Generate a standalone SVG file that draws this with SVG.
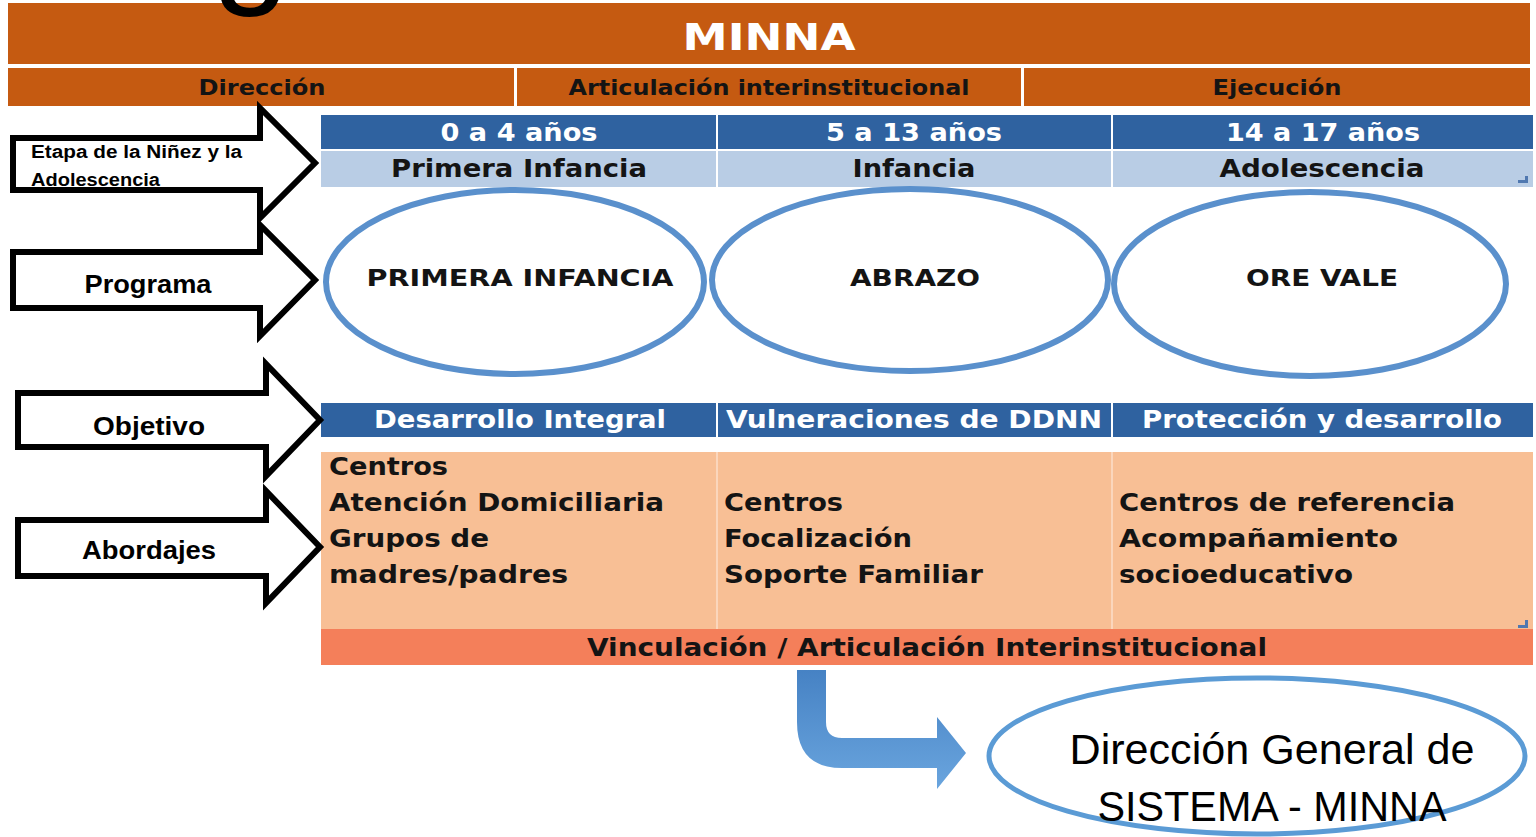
<svg xmlns="http://www.w3.org/2000/svg" width="1536" height="837" viewBox="0 0 1536 837">
<defs>
<style>
.v{font-family:"DejaVu Sans",Verdana,sans-serif;font-weight:bold;}
.c{font-family:"Liberation Sans",Arial,sans-serif;font-weight:bold;fill:#000;}
.wh{fill:#fff;font-size:24px;}
.dk{fill:#141414;}
.or{fill:#C55A11;}
.bl{fill:#2F62A0;}
.lb{fill:#B9CDE5;}
.arr{fill:#fff;stroke:#000;stroke-width:6;stroke-linejoin:miter;}
.ell{fill:#fff;stroke:#5A90CC;stroke-width:6;}
</style>
<linearGradient id="bg" x1="0" y1="0" x2="0" y2="1">
<stop offset="0" stop-color="#4682C4"/>
<stop offset="1" stop-color="#6AA5DE"/>
</linearGradient>
</defs>
<rect width="1536" height="837" fill="#fff"/>

<g id="header">
<rect class="or" x="8" y="3" width="1522" height="61"/>
<text class="v" x="769" y="50" font-size="38" fill="#fff" text-anchor="middle" textLength="173" lengthAdjust="spacingAndGlyphs">MINNA</text>
<text x="212" y="-12" font-family="Liberation Sans,Arial,sans-serif" font-size="140" fill="#000">g</text>
</g>

<g id="row-areas">
<rect class="or" x="8" y="68" width="506" height="38"/>
<rect class="or" x="517" y="68" width="504" height="38"/>
<rect class="or" x="1024" y="68" width="506" height="38"/>
<text class="v dk" x="262" y="95" font-size="21" text-anchor="middle" textLength="127" lengthAdjust="spacingAndGlyphs">Dirección</text>
<text class="v dk" x="769" y="95" font-size="21" text-anchor="middle" textLength="401" lengthAdjust="spacingAndGlyphs">Articulación interinstitucional</text>
<text class="v dk" x="1277" y="95" font-size="21" text-anchor="middle" textLength="129" lengthAdjust="spacingAndGlyphs">Ejecución</text>
</g>

<g id="ages">
<rect class="bl" x="321" y="115" width="395" height="34"/>
<rect class="bl" x="718" y="115" width="393" height="34"/>
<rect class="bl" x="1113" y="115" width="420" height="34"/>
<rect class="lb" x="321" y="151" width="395" height="36"/>
<rect class="lb" x="718" y="151" width="393" height="36"/>
<rect class="lb" x="1113" y="151" width="420" height="36"/>
<text class="v wh" x="519" y="141" text-anchor="middle" textLength="157" lengthAdjust="spacingAndGlyphs">0 a 4 años</text>
<text class="v wh" x="914" y="141" text-anchor="middle" textLength="176" lengthAdjust="spacingAndGlyphs">5 a 13 años</text>
<text class="v wh" x="1323" y="141" text-anchor="middle" textLength="194" lengthAdjust="spacingAndGlyphs">14 a 17 años</text>
<text class="v dk" x="519" y="177" font-size="24" text-anchor="middle" textLength="256" lengthAdjust="spacingAndGlyphs">Primera Infancia</text>
<text class="v dk" x="914" y="177" font-size="24" text-anchor="middle" textLength="123" lengthAdjust="spacingAndGlyphs">Infancia</text>
<text class="v dk" x="1322" y="177" font-size="24" text-anchor="middle" textLength="205" lengthAdjust="spacingAndGlyphs">Adolescencia</text>
<rect x="1518" y="180" width="10" height="3" fill="#5078B0"/>
<rect x="1525" y="176" width="3" height="7" fill="#5078B0"/>
</g>

<g id="prog-primera">
<ellipse class="ell" cx="515" cy="282" rx="189" ry="92"/>
<text class="v dk" x="520" y="286" font-size="23" text-anchor="middle" textLength="307" lengthAdjust="spacingAndGlyphs">PRIMERA INFANCIA</text>
</g>
<g id="prog-abrazo">
<ellipse class="ell" cx="910" cy="280" rx="198" ry="91"/>
<text class="v dk" x="915" y="286" font-size="23" text-anchor="middle" textLength="130" lengthAdjust="spacingAndGlyphs">ABRAZO</text>
</g>
<g id="prog-orevale">
<ellipse class="ell" cx="1310" cy="284" rx="196" ry="92"/>
<text class="v dk" x="1322" y="286" font-size="23" text-anchor="middle" textLength="152" lengthAdjust="spacingAndGlyphs">ORE VALE</text>
</g>

<g id="objetivos">
<rect class="bl" x="321" y="403" width="395" height="34"/>
<rect class="bl" x="718" y="403" width="393" height="34"/>
<rect class="bl" x="1113" y="403" width="420" height="34"/>
<text class="v wh" x="520" y="428" text-anchor="middle" textLength="292" lengthAdjust="spacingAndGlyphs">Desarrollo Integral</text>
<text class="v wh" x="914" y="428" text-anchor="middle" textLength="376" lengthAdjust="spacingAndGlyphs">Vulneraciones de DDNN</text>
<text class="v wh" x="1322" y="428" text-anchor="middle" textLength="360" lengthAdjust="spacingAndGlyphs">Protección y desarrollo</text>
</g>

<g id="abordajes">
<rect x="321" y="452" width="1212" height="177" fill="#F8BF95"/>
<line x1="717" y1="452" x2="717" y2="629" stroke="#FBD6BC" stroke-width="2"/>
<line x1="1112" y1="452" x2="1112" y2="629" stroke="#FBD6BC" stroke-width="2"/>
<g class="v dk" font-size="24">
<text x="329" y="475" textLength="119" lengthAdjust="spacingAndGlyphs">Centros</text>
<text x="329" y="511" textLength="335" lengthAdjust="spacingAndGlyphs">Atención Domiciliaria</text>
<text x="329" y="547" textLength="160" lengthAdjust="spacingAndGlyphs">Grupos de</text>
<text x="329" y="583" textLength="239" lengthAdjust="spacingAndGlyphs">madres/padres</text>
<text x="724" y="511" textLength="119" lengthAdjust="spacingAndGlyphs">Centros</text>
<text x="724" y="547" textLength="188" lengthAdjust="spacingAndGlyphs">Focalización</text>
<text x="724" y="583" textLength="259" lengthAdjust="spacingAndGlyphs">Soporte Familiar</text>
<text x="1119" y="511" textLength="336" lengthAdjust="spacingAndGlyphs">Centros de referencia</text>
<text x="1119" y="547" textLength="279" lengthAdjust="spacingAndGlyphs">Acompañamiento</text>
<text x="1119" y="583" textLength="234" lengthAdjust="spacingAndGlyphs">socioeducativo</text>
</g>
<rect x="1518" y="625" width="10" height="3" fill="#5078B0"/>
<rect x="1525" y="620" width="3" height="8" fill="#5078B0"/>
</g>

<g id="vinculacion">
<rect x="321" y="629" width="1212" height="36" fill="#F47F5A"/>
<text class="v dk" x="927" y="656" font-size="24" text-anchor="middle" textLength="680" lengthAdjust="spacingAndGlyphs">Vinculación / Articulación Interinstitucional</text>
</g>

<g id="label-etapa">
<polygon class="arr" points="13,138 260,138 260,108 315,163 260,218 260,190 13,190"/>
<text class="c" x="31" y="158" font-size="18" textLength="211" lengthAdjust="spacingAndGlyphs">Etapa de la Niñez y la</text>
<text class="c" x="31" y="186" font-size="18" textLength="129" lengthAdjust="spacingAndGlyphs">Adolescencia</text>
</g>
<g id="label-programa">
<polygon class="arr" points="13,252 260,252 260,225 315,280 260,336 260,308 13,308"/>
<text class="c" x="148" y="293" font-size="25" text-anchor="middle" textLength="127" lengthAdjust="spacingAndGlyphs">Programa</text>
</g>
<g id="label-objetivo">
<polygon class="arr" points="18,393 266,393 266,364 320,420 266,476 266,447 18,447"/>
<text class="c" x="149" y="435" font-size="25" text-anchor="middle" textLength="112" lengthAdjust="spacingAndGlyphs">Objetivo</text>
</g>
<g id="label-abordajes">
<polygon class="arr" points="18,520 266,520 266,491 320,547 266,603 266,576 18,576"/>
<text class="c" x="149" y="559" font-size="25" text-anchor="middle" textLength="134" lengthAdjust="spacingAndGlyphs">Abordajes</text>
</g>

<g id="connectors">
<path d="M797,670 L826,670 L826,722 Q826,738 842,738 L937,738 L937,717 L966,753 L937,789 L937,768 L842,768 Q797,768 797,722 Z" fill="url(#bg)"/>
</g>

<g id="direccion-general">
<ellipse cx="1257" cy="756" rx="268" ry="78" fill="#fff" stroke="#5B9BD5" stroke-width="5"/>
<text x="1272" y="764" font-family="Liberation Sans,Arial,sans-serif" font-size="42" fill="#000" text-anchor="middle" textLength="405" lengthAdjust="spacingAndGlyphs">Dirección General de</text>
<text x="1272" y="821" font-family="Liberation Sans,Arial,sans-serif" font-size="42" fill="#000" text-anchor="middle" textLength="349" lengthAdjust="spacingAndGlyphs">SISTEMA - MINNA</text>
</g>
</svg>
